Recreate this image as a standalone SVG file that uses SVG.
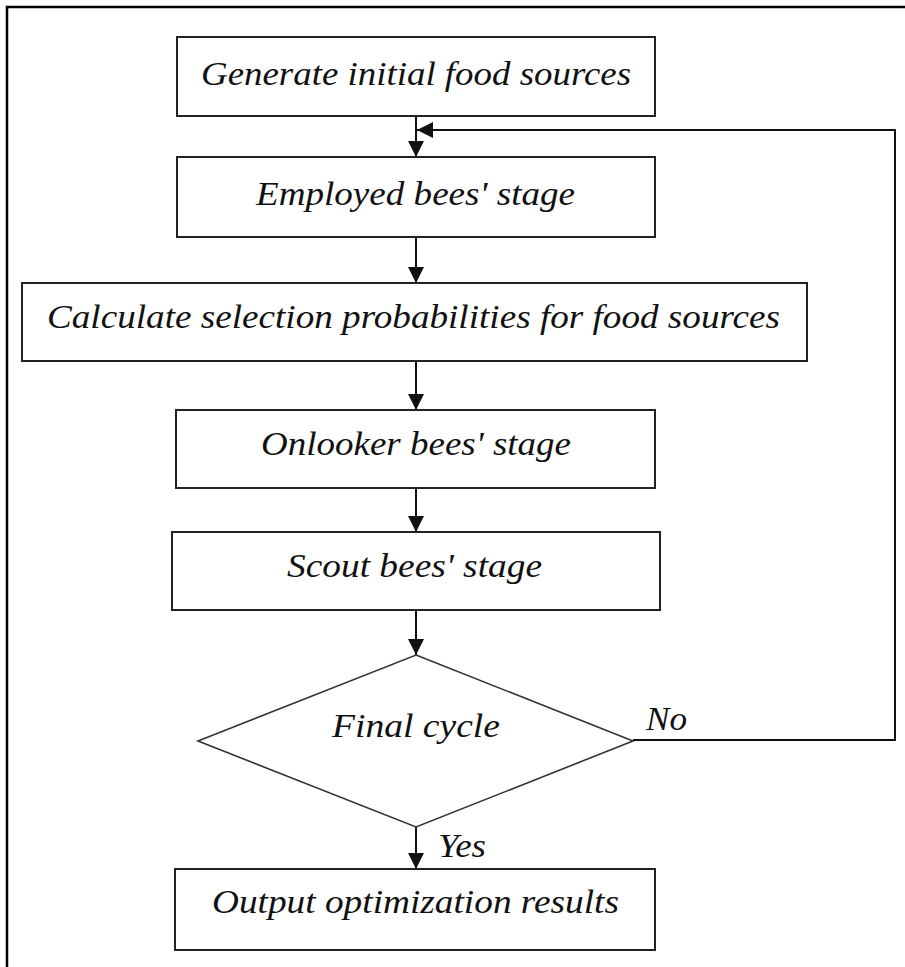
<svg xmlns="http://www.w3.org/2000/svg" width="905" height="967" viewBox="0 0 905 967">
  <style>
    .box { fill: #ffffff; stroke: #222222; stroke-width: 2; }
    .dia { fill: #ffffff; stroke: #333333; stroke-width: 1.6; }
    .lbl { font-family: "Liberation Serif", "Times New Roman", serif; font-style: italic; font-size: 34px; fill: #111111; }
    .edge { fill: none; stroke: #111111; stroke-width: 2; }
    .frame { stroke: #000000; stroke-width: 2.5; fill: none; }
  </style>
  <defs>
    <marker id="arrow" viewBox="0 0 16 16" refX="16" refY="8" markerWidth="16" markerHeight="16" markerUnits="userSpaceOnUse" orient="auto">
      <path d="M0,0 L16,8 L0,16 Z" fill="#111111"/>
    </marker>
  </defs>

  <rect width="905" height="967" fill="#ffffff"/>
  <!-- outer frame (top and left edges) -->
  <path class="frame" d="M7,967 L7,7 L905,7"/>

  <g id="connectors">
    <line class="edge" x1="416" y1="116" x2="416" y2="157" marker-end="url(#arrow)"/>
    <line class="edge" x1="416" y1="237" x2="416" y2="283" marker-end="url(#arrow)"/>
    <line class="edge" x1="416" y1="361" x2="416" y2="410" marker-end="url(#arrow)"/>
    <line class="edge" x1="416" y1="488" x2="416" y2="532" marker-end="url(#arrow)"/>
    <line class="edge" x1="416" y1="610" x2="416" y2="655" marker-end="url(#arrow)"/>
    <line class="edge" x1="416" y1="827" x2="416" y2="869" marker-end="url(#arrow)"/>
    <!-- loop back when not final -->
    <polyline class="edge" points="633,740 895,740 895,130 417,130" marker-end="url(#arrow)"/>
    <text class="lbl" x="646" y="730" textLength="41" lengthAdjust="spacingAndGlyphs">No</text>
    <text class="lbl" x="438" y="857" textLength="48" lengthAdjust="spacingAndGlyphs">Yes</text>
  </g>

  <g id="generate">
    <rect class="box" x="177" y="37" width="478" height="79"/>
    <text class="lbl" x="201" y="85" textLength="430" lengthAdjust="spacingAndGlyphs">Generate initial food sources</text>
  </g>

  <g id="employed">
    <rect class="box" x="177" y="157" width="478" height="80"/>
    <text class="lbl" x="256" y="205" textLength="319" lengthAdjust="spacingAndGlyphs">Employed bees' stage</text>
  </g>

  <g id="calculate">
    <rect class="box" x="22" y="283" width="785" height="78"/>
    <text class="lbl" x="47" y="328" textLength="733" lengthAdjust="spacingAndGlyphs">Calculate selection probabilities for food sources</text>
  </g>

  <g id="onlooker">
    <rect class="box" x="176" y="410" width="479" height="78"/>
    <text class="lbl" x="261" y="455" textLength="310" lengthAdjust="spacingAndGlyphs">Onlooker bees' stage</text>
  </g>

  <g id="scout">
    <rect class="box" x="172" y="532" width="488" height="78"/>
    <text class="lbl" x="287" y="577" textLength="255" lengthAdjust="spacingAndGlyphs">Scout bees' stage</text>
  </g>

  <g id="final">
    <polygon class="dia" points="416,655 633,741 416,827 198,741"/>
    <text class="lbl" x="332" y="737" textLength="168" lengthAdjust="spacingAndGlyphs">Final cycle</text>
  </g>

  <g id="output">
    <rect class="box" x="175" y="869" width="480" height="81"/>
    <text class="lbl" x="212" y="913" textLength="407" lengthAdjust="spacingAndGlyphs">Output optimization results</text>
  </g>
</svg>
